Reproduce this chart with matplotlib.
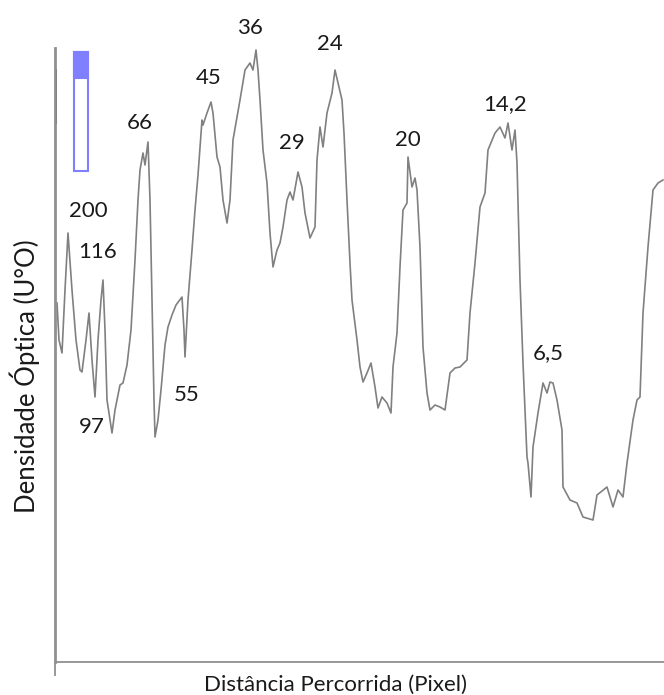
import matplotlib.pyplot as plt
from matplotlib.patches import Rectangle

plt.rcParams['font.family'] = ['Lato', 'DejaVu Sans']

# densitometry trace: distance along the lane (pixels) and optical density (a.u.)
dist = [2, 4, 7, 10, 13, 17, 21, 25, 27, 31,
        34, 37, 40, 43, 46, 48, 50, 52, 55, 57,
        60, 65, 68, 72, 76, 80, 83, 85, 88, 90,
        93, 95, 97, 99, 100, 103, 106, 110, 113, 117,
        121, 127, 129, 130, 133, 137, 140, 143, 147, 148,
        152, 156, 158, 162, 165, 168, 172, 175, 178, 182,
        185, 190, 195, 198, 201, 203, 205, 208, 212, 215,
        218, 222, 225, 228, 232, 235, 238, 243, 247, 250,
        255, 260, 262, 265, 268, 272, 277, 280, 283, 287,
        289, 292, 295, 297, 302, 305, 308, 312, 316, 320,
        323, 327, 332, 336, 338, 342, 345, 348, 352, 353,
        357, 360, 362, 365, 368, 372, 375, 380, 385, 390,
        395, 400, 405, 412, 415, 420, 425, 430, 433, 440,
        445, 450, 453, 457, 460, 462, 465, 468, 472, 473,
        476, 478, 483, 488, 492, 495, 498, 502, 507, 508,
        515, 522, 528, 538, 542, 552, 558, 563, 568, 572,
        578, 582, 585, 588, 593, 598, 603, 608]
dens = [359, 322, 309, 372, 429, 372, 322, 292, 290, 322,
        349, 302, 265, 322, 362, 382, 332, 262, 242, 229,
        252, 277, 279, 297, 332, 402, 462, 492, 509, 497,
        520, 462, 362, 262, 225, 242, 272, 317, 335, 347,
        357, 365, 332, 305, 362, 412, 452, 487, 542, 537,
        549, 560, 549, 505, 495, 462, 439, 462, 522, 545,
        562, 592, 599, 592, 612, 592, 562, 512, 479, 429,
        395, 412, 419, 435, 462, 470, 462, 490, 475, 449,
        424, 435, 502, 535, 515, 549, 569, 592, 579, 562,
        529, 462, 399, 362, 322, 295, 280, 289, 299, 275,
        254, 265, 259, 249, 295, 329, 395, 452, 459, 505,
        475, 484, 472, 415, 315, 269, 252, 257, 255, 252,
        289, 294, 295, 302, 349, 399, 455, 469, 512, 529,
        535, 524, 539, 512, 532, 499, 382, 299, 205, 199,
        165, 215, 249, 279, 269, 280, 279, 262, 232, 175,
        162, 159, 145, 142, 167, 175, 155, 172, 165, 199,
        242, 262, 265, 349, 415, 472, 479, 482]

# molecular weight markers (kDa) written above the bands
peak_names = ['200', '116', '97', '66', '55', '45', '36', '29', '24', '20', '14,2', '6,5']
peak_x = [33, 43, 37, 85, 132, 154, 195, 237, 275, 353, 450, 493]
peak_y = [451, 410, 235, 539, 267, 584, 634, 519, 618, 522, 558, 309]

fig = plt.figure(figsize=(6.64, 6.95), dpi=100)
ax = fig.add_axes([55 / 664, 33 / 695, 609 / 664, 614 / 695])
ax.plot(dist, dens, color='#808080', lw=1.2)
ax.set_xlim(0, 609)
ax.set_ylim(0, 614)

for s in ['top', 'right']:
    ax.spines[s].set_visible(False)
ax.spines['left'].set_color('#909090')
ax.spines['left'].set_linewidth(2)
ax.spines['bottom'].set_color('#909090')
ax.spines['bottom'].set_linewidth(1.3)
ax.axvline(0, ymin=540 / 614, ymax=592 / 614, color='black', lw=2)
ax.set_xticks([0])
ax.set_xticklabels([''])
ax.tick_params(axis='x', length=10, width=1.3, color='#909090')
ax.set_yticks([])

for name, x, y in zip(peak_names, peak_x, peak_y):
    ax.text(x, y, name, ha='center', va='center', fontsize=16, color='#1a1a1a')

# lane marker in the top left corner
ax.add_patch(Rectangle((19 / 609, (662 - 171) / 614), 14 / 609, 119 / 614,
                       transform=ax.transAxes, fill=False, ec='#8080ff', lw=1.5))
ax.add_patch(Rectangle((19 / 609, (662 - 78) / 614), 14 / 609, 26 / 614,
                       transform=ax.transAxes, fc='#8080ff', ec='#8080ff', lw=1.5))

fig.text(25 / 664, 1 - 376 / 695, 'Densidade Óptica (U°O)', rotation=90,
         ha='center', va='center', fontsize=18.5, color='#1a1a1a')
fig.text(336 / 664, 1 - 685 / 695, 'Distância Percorrida (Pixel)',
         ha='center', va='center', fontsize=16, color='#1a1a1a')

fig.savefig('out.png', dpi=100)
